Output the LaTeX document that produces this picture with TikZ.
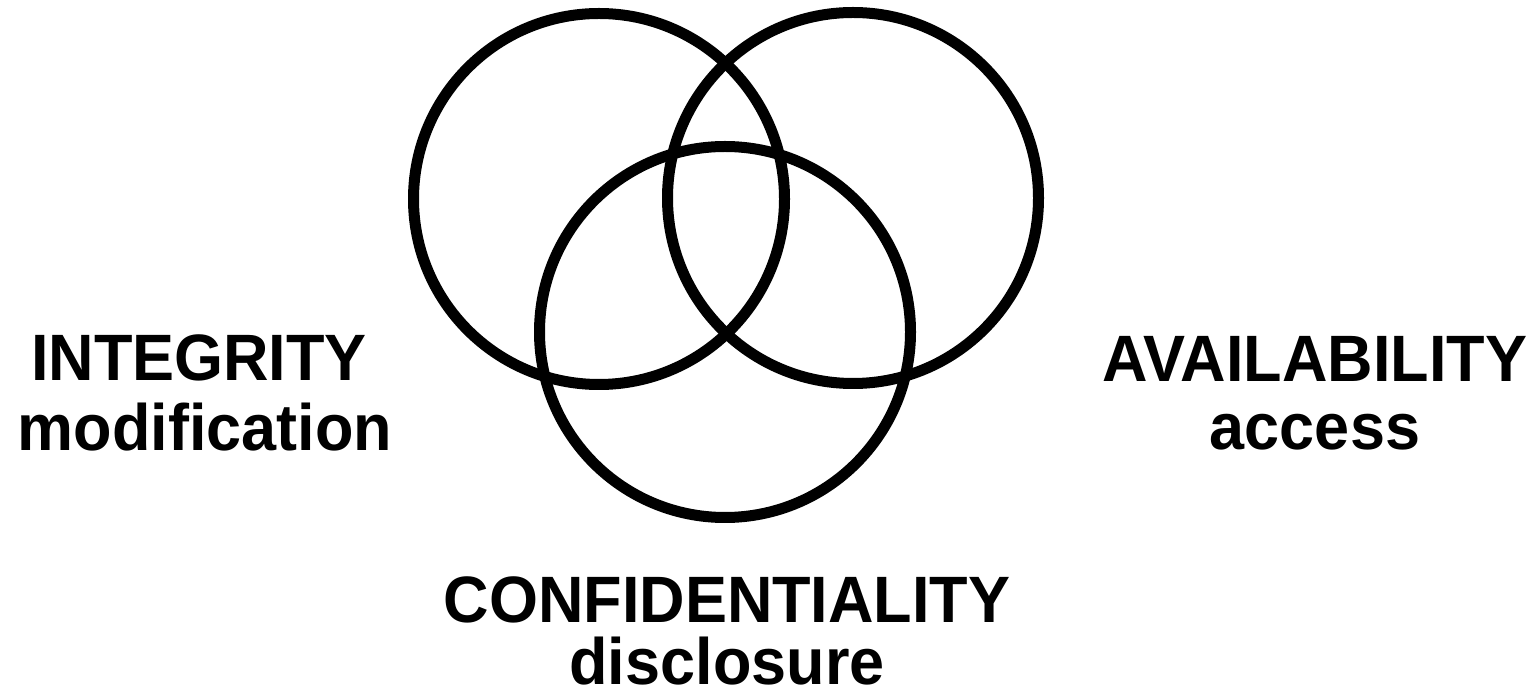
\documentclass[tikz,border=0pt]{standalone}
\usepackage{fontspec}
\usepackage{tikz}
\usetikzlibrary{positioning}
\newfontfamily\lblfont{Liberation Sans}[FakeStretch=0.96]
\tikzset{ring/.style={circle, draw, line width=5.5pt, inner sep=0pt, outer sep=0pt, minimum size=185.5pt}}
\tikzset{lbl/.style={inner sep=0pt, outer sep=0pt, anchor=base, font=\lblfont\bfseries\fontsize{32.8}{35}\selectfont}}

\begin{document}
\begin{tikzpicture}[x=0.5pt,y=-0.5pt]
\useasboundingbox (0,0) rectangle (1536,694);
\node[ring] (I) at (599,199) {};
\node[ring] (A) at (853,198) {};
\node[ring] (C) at (725,332) {};

\node[lbl] (It) at (199,381) {INTEGRITY};
\node[lbl, below=35pt of It.base, anchor=base, xshift=3pt] (Is) {modification};
\node[lbl] (At) at (1315,382) {AVAILABILITY};
\node[lbl, below=34pt of At.base, anchor=base] (As) {access};
\node[lbl] (Ct) at (727,622) {CONFIDENTIALITY};
\node[lbl, below=31pt of Ct.base, anchor=base] (Cs) {disclosure};
\end{tikzpicture}
\end{document}
